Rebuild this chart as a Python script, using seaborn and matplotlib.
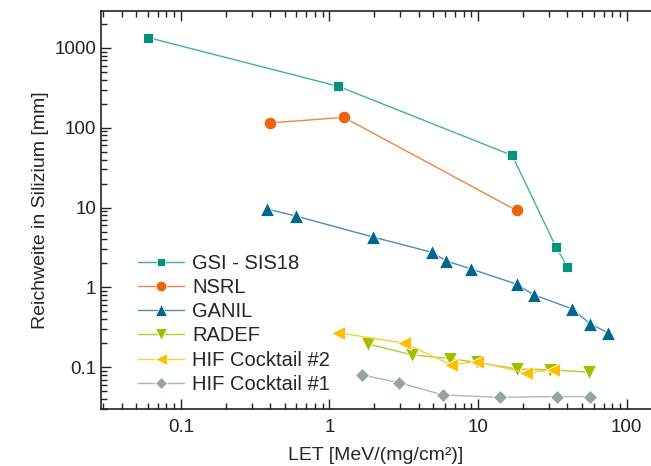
import numpy as np
import pandas as pd
import seaborn as sns
import matplotlib.pyplot as plt
from matplotlib.ticker import NullFormatter, LogLocator

# Reichweite von Schwerionen in Silizium ueber LET, je Beschleunigeranlage
gsi_let = [0.06, 1.15, 17.0, 33.5, 40.0]
gsi_range = [1350, 330, 45, 3.2, 1.8]

nsrl_let = [0.40, 1.25, 18.2]
nsrl_range = [115, 135, 9.2]

ganil_let = [0.38, 0.60, 1.95, 4.9, 6.1, 9.0, 18.2, 23.7, 42.8, 57.0, 75.0]
ganil_range = [9.6, 7.8, 4.3, 2.75, 2.15, 1.7, 1.1, 0.81, 0.54, 0.35, 0.27]

radef_let = [1.83, 3.6, 6.5, 9.8, 18.3, 30.5, 55.6]
radef_range = [0.195, 0.143, 0.128, 0.115, 0.095, 0.093, 0.087]

hif2_let = [1.15, 3.2, 6.6, 9.8, 21.0, 32.0]
hif2_range = [0.27, 0.20, 0.107, 0.118, 0.085, 0.093]

hif1_let = [1.66, 2.95, 5.8, 14.1, 33.9, 56.8]
hif1_range = [0.080, 0.064, 0.045, 0.042, 0.043, 0.043]

series = [
    ("GSI - SIS18", gsi_let, gsi_range, "s", 7.5, "#00957a", "#3db39c"),
    ("NSRL", nsrl_let, nsrl_range, "o", 9.0, "#ec6410", "#f08445"),
    ("GANIL", ganil_let, ganil_range, "^", 9.5, "#00668c", "#4a8fb0"),
    ("RADEF", radef_let, radef_range, "v", 9.5, "#a3bd00", "#b3cc2a"),
    ("HIF Cocktail #2", hif2_let, hif2_range, "<", 9.5, "#ffbf00", "#ffcc33"),
    ("HIF Cocktail #1", hif1_let, hif1_range, "D", 7.5, "#94a3a3", "#aab7b7"),
]

sns.set_style("ticks")
plt.rcParams["font.family"] = ["Liberation Sans", "DejaVu Sans"]

fig = plt.figure(figsize=(6.51, 4.66), dpi=100)
ax = fig.add_axes([101 / 651, 1 - 409 / 466, 550 / 651, 398 / 466])

for name, let, rng, mk, ms, mcol, lcol in series:
    df = pd.DataFrame({"LET": let, "Reichweite": rng})
    sns.lineplot(data=df, x="LET", y="Reichweite", ax=ax, sort=False,
                 estimator=None, color=lcol, lw=1.0, marker=mk, markersize=ms,
                 markerfacecolor=mcol, markeredgecolor="white",
                 markeredgewidth=0.6, label=name)

ax.set_xscale("log")
ax.set_yscale("log")
ax.set_xlim(0.029, 146)
ax.set_ylim(0.03, 2900)

ax.set_xticks([0.1, 1, 10, 100])
ax.set_xticklabels(["0.1", "1", "10", "100"])
ax.set_yticks([0.1, 1, 10, 100, 1000])
ax.set_yticklabels(["0.1", "1", "10", "100", "1000"])
for axis in (ax.xaxis, ax.yaxis):
    axis.set_minor_locator(LogLocator(base=10, subs=np.arange(2, 10), numticks=20))
    axis.set_minor_formatter(NullFormatter())

ax.tick_params(which="both", direction="in", top=True, right=False,
               labelsize=13.5, width=1.0, colors="#222222")
ax.tick_params(which="major", length=7)
ax.tick_params(which="minor", length=4)
ax.tick_params(axis="x", pad=7)

sns.despine(ax=ax, right=True, top=False)
for sp in ("left", "bottom", "top"):
    ax.spines[sp].set_linewidth(1.2)
    ax.spines[sp].set_color("#222222")

ax.set_xlabel("LET [MeV/(mg/cm²)]", fontsize=14, labelpad=8)
ax.set_ylabel("Reichweite in Silizium [mm]", fontsize=14, labelpad=4)

ax.legend(loc="upper left", bbox_to_anchor=(0.067, 0.39), frameon=False,
          fontsize=14.5, handlelength=2.3, handletextpad=0.4,
          labelspacing=0.26, markerscale=0.85, borderaxespad=0, borderpad=0)

fig.savefig("out.png", dpi=100)
